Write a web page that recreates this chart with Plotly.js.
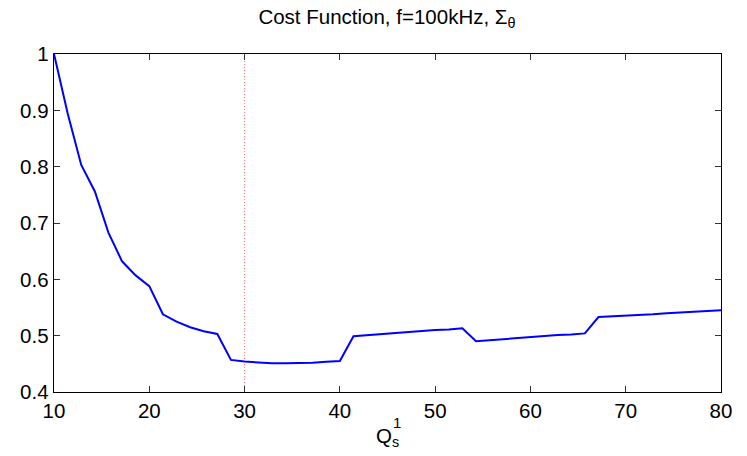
<!DOCTYPE html>
<html>
<head>
<meta charset="utf-8">
<script src="https://cdn.plot.ly/plotly-3.0.1.min.js"></script>
<style>html,body{margin:0;padding:0;background:#fff;}#chart{width:747px;height:456px;}</style>
</head>
<body>
<div id="chart"></div>
<script>
// Q_s^1 sample points
const qValues = [10, 11.43, 12.86, 14.29, 15.71, 17.14, 18.57, 20, 21.43, 22.86,
  24.29, 25.71, 27.14, 28.57, 30, 31.43, 32.86, 34.29, 35.71, 37.14,
  38.57, 40, 41.43, 42.86, 44.29, 45.71, 47.14, 48.57, 50, 51.43,
  52.86, 54.29, 55.71, 57.14, 58.57, 60, 61.43, 62.86, 64.29, 65.71,
  67.14, 68.57, 70, 71.43, 72.86, 74.29, 75.71, 77.14, 78.57, 80];
// normalised cost
const costValues = [1.0, 0.895, 0.803, 0.756, 0.683, 0.632, 0.607, 0.588, 0.538, 0.525,
  0.515, 0.508, 0.503, 0.457, 0.454, 0.452, 0.451, 0.451, 0.451, 0.452,
  0.4535, 0.455, 0.499, 0.501, 0.503, 0.504, 0.506, 0.508, 0.510, 0.511,
  0.513, 0.490, 0.492, 0.494, 0.495, 0.497, 0.499, 0.501, 0.502, 0.504,
  0.533, 0.534, 0.536, 0.537, 0.538, 0.540, 0.541, 0.542, 0.544, 0.545];
// marker line
const markerX = [30, 30];
const markerY = [0.4, 1];
const xTicks = [10, 20, 30, 40, 50, 60, 70, 80];
const yTicks = [0.4, 0.5, 0.6, 0.7, 0.8, 0.9, 1];
const yTickText = ['0.4', '0.5', '0.6', '0.7', '0.8', '0.9', '1'];

const font = {family: 'Liberation Sans, Arial, sans-serif', size: 20.5, color: '#000'};

const traces = [
  {x: markerX, y: markerY, type: 'scatter', mode: 'lines',
   line: {color: '#ff7070', width: 1, dash: '1px,2px'}, hoverinfo: 'skip'},
  {x: qValues, y: costValues, type: 'scatter', mode: 'lines',
   line: {color: '#0000ff', width: 2}}
];

const layout = {
  width: 747, height: 456,
  margin: {l: 53.5, r: 25.5, t: 54, b: 63.5, pad: 0},
  paper_bgcolor: '#fff', plot_bgcolor: '#fff',
  showlegend: false,
  font: font,
  title: {text: 'Cost Function, f=100kHz, Σ<sub>θ</sub>', font: font, x: 0.518, xanchor: 'center', y: 0.963, yanchor: 'middle'},
  xaxis: {
    range: [10, 80], tickvals: xTicks, ticks: 'inside', ticklen: 6, tickcolor: '#333', tickwidth: 1,
    showline: true, linecolor: '#000', linewidth: 1.3, mirror: 'ticks', showgrid: false, zeroline: false,
    tickfont: font,
    title: {text: 'Q<sub>s</sub>', font: font, standoff: 7}
  },
  yaxis: {
    range: [0.4, 1], tickvals: yTicks, ticktext: yTickText, ticks: 'inside', ticklen: 6, tickcolor: '#333', tickwidth: 1,
    showline: true, linecolor: '#000', linewidth: 1.3, mirror: 'ticks', showgrid: false, zeroline: false,
    tickfont: font
  },
  annotations: [
    {text: '1', xref: 'paper', yref: 'paper', x: 0.505, y: -0.09, xanchor: 'left', yanchor: 'middle',
     showarrow: false, font: {family: font.family, size: 15, color: '#000'}}
  ]
};

Plotly.newPlot('chart', traces, layout, {displayModeBar: false, staticPlot: true});
</script>
</body>
</html>
